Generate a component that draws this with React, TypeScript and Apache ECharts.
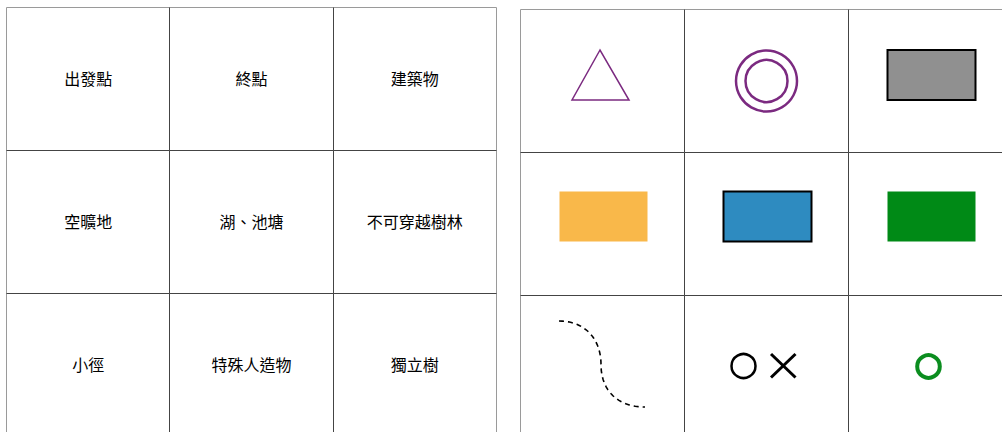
import React, { useEffect, useRef } from "react";
import * as echarts from "echarts";

// Left table: terrain labels (rows x columns)
const labelRows: string[][] = [
  ["出發點", "終點", "建築物"],
  ["空曠地", "湖、池塘", "不可穿越樹林"],
  ["小徑", "特殊人造物", "獨立樹"],
];

// Right table: matching map symbols (same order as labels)
const symbolKinds: string[] = [
  "triangle", "doubleRing", "box",
  "box", "box", "box",
  "trail", "circleCross", "ring",
];
const symbolFills: string[] = [
  "none", "none", "#909090",
  "#F9B84A", "#2E8BC0", "#008A16",
  "none", "none", "none",
];
const symbolStrokes: string[] = [
  "#7B2A80", "#7B2A80", "#000000",
  "none", "#000000", "none",
  "#000000", "#000000", "#0B8D1F",
];

const COLS = 3;
const ROWS = 3;

const labelData = labelRows.flatMap((row, r) => row.map((_, c) => [c, r, r * COLS + c]));
const symbolData = symbolKinds.map((_, i) => [i % COLS, Math.floor(i / COLS), i]);

const crisp = (v: number) => Math.round(v - 0.5) + 0.5;
const INNER = "#444444";

function cellLines(x0: number, y0: number, x1: number, y1: number, c: number, r: number) {
  const out: any[] = [];
  if (c < COLS - 1) {
    out.push({
      type: "line",
      shape: { x1: crisp(x1), y1: y0, x2: crisp(x1), y2: y1 },
      style: { stroke: INNER, lineWidth: 1 },
    });
  }
  if (r < ROWS - 1) {
    out.push({
      type: "line",
      shape: { x1: x0, y1: crisp(y1), x2: x1, y2: crisp(y1) },
      style: { stroke: INNER, lineWidth: 1 },
    });
  }
  return out;
}

function cubic(p0: number[], p1: number[], p2: number[], p3: number[], n: number) {
  const pts: number[][] = [];
  for (let i = 0; i <= n; i++) {
    const t = i / n;
    const a = (1 - t) ** 3, b = 3 * (1 - t) ** 2 * t, c = 3 * (1 - t) * t * t, d = t ** 3;
    pts.push([
      a * p0[0] + b * p1[0] + c * p2[0] + d * p3[0],
      a * p0[1] + b * p1[1] + c * p2[1] + d * p3[1],
    ]);
  }
  return pts;
}

function symbolShape(i: number, cx: number, top: number): any[] {
  const kind = symbolKinds[i];
  const fill = symbolFills[i];
  const stroke = symbolStrokes[i];
  switch (kind) {
    case "triangle":
      return [{
        type: "polygon",
        shape: { points: [[cx - 2.5, top + 40.5], [cx - 30.5, top + 90.5], [cx + 26.5, top + 90.5]] },
        style: { fill: "none", stroke, lineWidth: 1.5 },
      }];
    case "doubleRing":
      return [
        { type: "circle", shape: { cx, cy: top + 71.5, r: 30.5 }, style: { fill: "none", stroke, lineWidth: 2.5 } },
        { type: "circle", shape: { cx, cy: top + 71.5, r: 21 }, style: { fill: "none", stroke, lineWidth: 2.5 } },
      ];
    case "box": {
      const s = stroke === "none" ? {} : { stroke, lineWidth: 2 };
      return [{
        type: "rect",
        shape: { x: cx - 43, y: top + 40.5 - (top > 100 ? 1.5 : 0), width: 88, height: 50 },
        style: { fill, ...s },
      }];
    }
    case "trail": {
      const a = cubic([cx - 43.5, top + 25.5], [cx - 17, top + 25.5], [cx - 1.5, top + 44], [cx - 1.5, top + 69], 24);
      const b = cubic([cx - 1.5, top + 69], [cx - 1.5, top + 95], [cx + 15, top + 111.5], [cx + 42.5, top + 111.5], 24);
      return [{
        type: "polyline",
        shape: { points: a.concat(b.slice(1)) },
        style: { fill: "none", stroke, lineWidth: 1.6, lineDash: [5, 4] },
      }];
    }
    case "circleCross":
      return [
        { type: "circle", shape: { cx: cx - 23, cy: top + 70.5, r: 12 }, style: { fill: "none", stroke, lineWidth: 2.5 } },
        { type: "line", shape: { x1: cx + 4.5, y1: top + 58.5, x2: cx + 29, y2: top + 82 }, style: { stroke, lineWidth: 3 } },
        { type: "line", shape: { x1: cx + 29, y1: top + 58.5, x2: cx + 4.5, y2: top + 82 }, style: { stroke, lineWidth: 3 } },
      ];
    case "ring":
      return [{ type: "circle", shape: { cx: cx - 2, cy: top + 71, r: 11.3 }, style: { fill: "none", stroke, lineWidth: 4 } }];
  }
  return [];
}

export default function App() {
  const ref = useRef<HTMLDivElement>(null);
  useEffect(() => {
    if (!ref.current) return;
    const chart = echarts.init(ref.current, null, { renderer: "svg" });
    const axisX = (g: number) => ({ type: "value", gridIndex: g, min: 0, max: COLS, show: false });
    const axisY = (g: number) => ({ type: "value", gridIndex: g, min: 0, max: ROWS, inverse: true, show: false });
    chart.setOption({
      animation: false,
      backgroundColor: "#ffffff",
      grid: [
        { left: 6.5, top: 7.5, width: 490, height: 429, show: true, borderColor: "#9a9a9a", borderWidth: 1, backgroundColor: "transparent", outerBoundsMode: "none", containLabel: false },
        { left: 520.5, top: 9.5, width: 492, height: 429, show: true, borderColor: "#9a9a9a", borderWidth: 1, backgroundColor: "transparent", outerBoundsMode: "none", containLabel: false },
      ],
      xAxis: [axisX(0), axisX(1)],
      yAxis: [axisY(0), axisY(1)],
      series: [
        {
          type: "custom",
          xAxisIndex: 0,
          yAxisIndex: 0,
          data: labelData,
          silent: true,
          clip: false,
          renderItem: (_p: any, api: any) => {
            const c = api.value(0), r = api.value(1), idx = api.value(2);
            const p0 = api.coord([c, r]);
            const p1 = api.coord([c + 1, r + 1]);
            const text = labelRows[Math.floor(idx / COLS)][idx % COLS];
            return {
              type: "group",
              children: [
                ...cellLines(p0[0], p0[1], p1[0], p1[1], c, r),
                {
                  type: "text",
                  x: (p0[0] + p1[0]) / 2,
                  y: (p0[1] + p1[1]) / 2 - 1,
                  style: {
                    text,
                    fill: "#000000",
                    fontSize: 16,
                    fontFamily: '"Noto Sans CJK TC", "Noto Sans CJK SC", sans-serif',
                    align: "center",
                    verticalAlign: "middle",
                  },
                },
              ],
            };
          },
        },
        {
          type: "custom",
          xAxisIndex: 1,
          yAxisIndex: 1,
          data: symbolData,
          silent: true,
          clip: false,
          renderItem: (_p: any, api: any) => {
            const c = api.value(0), r = api.value(1), idx = api.value(2);
            const p0 = api.coord([c, r]);
            const p1 = api.coord([c + 1, r + 1]);
            return {
              type: "group",
              children: [
                ...cellLines(p0[0], p0[1], p1[0], p1[1], c, r),
                ...symbolShape(idx, (p0[0] + p1[0]) / 2, p0[1]),
              ],
            };
          },
        },
      ],
    });
    return () => chart.dispose();
  }, []);
  return (
    <div
      ref={ref}
      style={{ position: "fixed", left: 0, top: 0, width: 1002, height: 432, background: "#fff" }}
    />
  );
}
